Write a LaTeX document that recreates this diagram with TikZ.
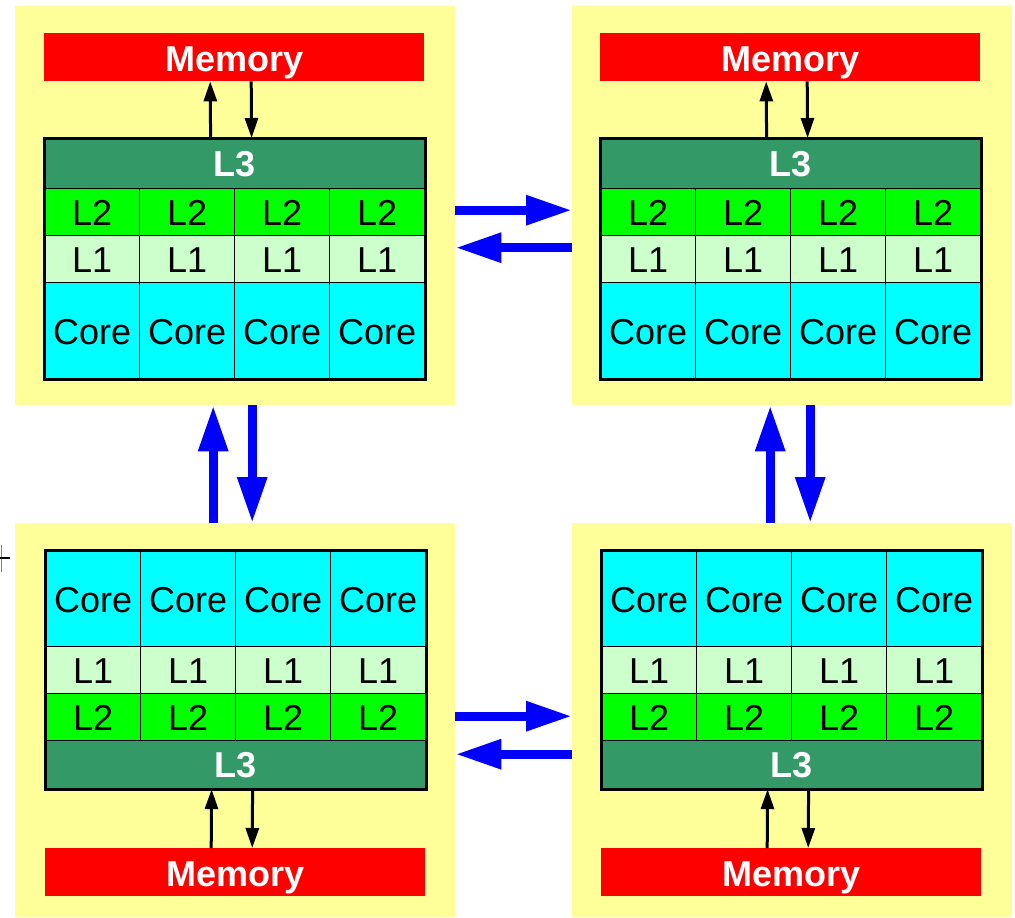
\documentclass[tikz,border=0pt]{standalone}
\usepackage{fontspec}
\setmainfont{Liberation Sans}
\usetikzlibrary{arrows.meta,positioning,calc}

\definecolor{panelyellow}{RGB}{255,255,153}
\definecolor{memred}{RGB}{255,0,0}
\definecolor{lthreegreen}{RGB}{51,153,102}
\definecolor{ltwogreen}{RGB}{0,255,0}
\definecolor{lonegreen}{RGB}{204,255,204}
\definecolor{corecyan}{RGB}{0,255,255}
\definecolor{linkblue}{RGB}{0,0,255}

\begin{document}
\begin{tikzpicture}[
        x=1pt, y=-1pt,
        panel/.style={
            fill=panelyellow,
            minimum width=440pt,
            minimum height=399pt,
            inner sep=0pt,
            anchor=north west
        },
        memory/.style={
            fill=memred,
            text=white,
            font=\fontsize{36}{40}\selectfont\bfseries,
            text height=29pt,
            text depth=0pt,
            minimum width=380pt,
            minimum height=48pt,
            inner sep=0pt,
            anchor=north west
        },
        lthree/.style={
            draw,
            line width=1.2pt,
            fill=lthreegreen,
            text=white,
            font=\fontsize{36}{40}\selectfont\bfseries,
            text height=26pt,
            text depth=0pt,
            minimum width=380pt,
            minimum height=50pt,
            inner sep=0pt,
            anchor=north west
        },
        cell/.style={
            draw,
            line width=1.2pt,
            minimum width=95pt,
            inner sep=0pt,
            anchor=north west,
            text height=27pt,
            text depth=0pt,
            font=\fontsize{36}{40}\selectfont
        },
        ltwo/.style={cell, fill=ltwogreen, minimum height=47pt},
        lone/.style={cell, fill=lonegreen, minimum height=47pt},
        core/.style={cell, fill=corecyan, minimum height=96pt},
        bus/.style={-{Triangle[length=20pt, width=13pt]}, line width=3pt},
        link/.style={-{Triangle[length=46pt, width=28pt]}, line width=9pt, draw=linkblue}
    ]
        \useasboundingbox (0,0) rectangle (1015,918);

        % the four sockets
        \node[panel] (tlp) at (15,6) {};
        \node[panel] (trp) at (572,6) {};
        \node[panel, minimum height=394pt] (blp) at (15,523) {};
        \node[panel, minimum height=394pt] (brp) at (572,523) {};

        % upper sockets: memory on top
        \foreach \p/\x in {tl/44, tr/600} {
            \node[memory] (\p-mem) at (\x,33) {Memory};
            \node[lthree] (\p-l3) at (\x,138) {L3};
            \foreach \c in {0,...,3} {
                \node[ltwo] (\p-l2-\c) at ({\x+95*\c},188) {L2};
                \node[lone] (\p-l1-\c) at ({\x+95*\c},235) {L1};
                \node[core] (\p-core-\c) at ({\x+95*\c},282) {Core};
            }
            \draw[line width=3pt] (\p-l3.north west) rectangle (\p-core-3.south east);
            \draw[bus] ([xshift=-24pt]\p-l3.north) -- ([xshift=-24pt]\p-mem.south);
            \draw[bus] ([xshift=17pt]\p-mem.south) -- ([xshift=17pt]\p-l3.north);
        }

        % lower sockets: memory at the bottom
        \foreach \p/\x in {bl/45, br/601} {
            \foreach \c in {0,...,3} {
                \node[core] (\p-core-\c) at ({\x+95*\c},550) {Core};
                \node[lone] (\p-l1-\c) at ({\x+95*\c},646) {L1};
                \node[ltwo] (\p-l2-\c) at ({\x+95*\c},693) {L2};
            }
            \node[lthree, minimum height=48pt] (\p-l3) at (\x,740) {L3};
            \node[memory] (\p-mem) at (\x,848) {Memory};
            \draw[line width=3pt] (\p-core-0.north west) rectangle (\p-l3.south east);
            \draw[bus] ([xshift=-24pt]\p-mem.north) -- ([xshift=-24pt]\p-l3.south);
            \draw[bus] ([xshift=17pt]\p-l3.south) -- ([xshift=17pt]\p-mem.north);
        }

        % links between sockets
        \draw[link] ([yshift=-4.5pt]tlp.east) -- ([yshift=-4.5pt]trp.west);
        \draw[link] ([yshift=-42pt]trp.west) -- ([yshift=-42pt]tlp.east);
        \draw[link] ([yshift=4pt]blp.east) -- ([yshift=4pt]brp.west);
        \draw[link] ([yshift=-34pt]brp.west) -- ([yshift=-34pt]blp.east);
        \draw[link] ([xshift=-22pt]blp.north) -- ([xshift=-22pt]tlp.south);
        \draw[link] ([xshift=17pt]tlp.south) -- ([xshift=17pt]blp.north);
        \draw[link] ([xshift=-22pt]brp.north) -- ([xshift=-22pt]trp.south);
        \draw[link] ([xshift=18pt]trp.south) -- ([xshift=18pt]brp.north);

        % stray mark at the left edge
        \draw[gray, line width=1pt] (1,545) -- (1,572);
        \draw[line width=2pt] (0,558) -- (10,558);
    \end{tikzpicture}
\end{document}
